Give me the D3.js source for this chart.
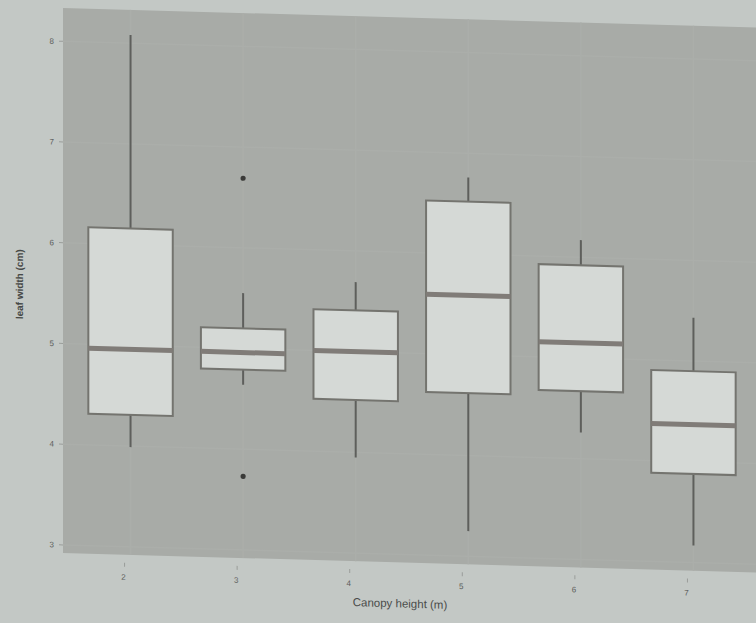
<!DOCTYPE html>
<html>
<head>
<meta charset="utf-8">
<script src="https://cdn.jsdelivr.net/npm/d3@7"></script>
<style>
  html, body { margin: 0; padding: 0; background: #c3c8c5; }
  svg { display: block; }
</style>
</head>
<body>
<svg id="chart" width="756" height="623"></svg>
<script>
// Canopy height classes (m)
const categories = ["2", "3", "4", "5", "6", "7"];
// Five-number summaries of leaf width (cm) per class
const whiskerLow  = [3.99, 4.64, 3.95, 3.25, 4.26, 3.17];
const q1          = [4.31, 4.79, 4.52, 4.62, 4.67, 3.88];
const median      = [4.96, 4.96, 5.00, 5.59, 5.15, 4.37];
const q3          = [6.16, 5.20, 5.41, 6.52, 5.92, 4.90];
const whiskerHigh = [8.08, 5.55, 5.69, 6.76, 6.17, 5.43];
// Individual outlying observations
const outlierCat  = ["3", "3"];
const outlierVal  = [6.69, 3.73];
const yTicks      = [3, 4, 5, 6, 7, 8];

const svg = d3.select("#chart");
const panel = { left: 63, right: 761, top: 8, bottom: 553 };

// Slight tilt of the whole figure
const tilt = 0.028;
const root = svg.append("g")
  .attr("transform", `translate(0,${-panel.left * tilt}) skewY(${Math.atan(tilt) * 180 / Math.PI})`);

// Discrete x positions with ggplot-like expansion (0.6 of a step on each side)
const x = d3.scalePoint()
  .domain(categories)
  .range([panel.left, panel.right])
  .padding(0.6);
const cx = c => x(c);
const boxW = x.step() * 0.75;

const y = d3.scaleLinear().domain([2.92, 8.33]).range([panel.bottom, panel.top]);

// Panel background
root.append("rect")
  .attr("x", panel.left).attr("y", panel.top)
  .attr("width", panel.right - panel.left).attr("height", panel.bottom - panel.top)
  .attr("fill", "#a8aba7");

// Faint grid lines
root.append("g").selectAll("line").data(categories).join("line")
  .attr("x1", d => cx(d)).attr("x2", d => cx(d))
  .attr("y1", panel.top).attr("y2", panel.bottom)
  .attr("stroke", "#abaeaa").attr("stroke-width", 1.5);
root.append("g").selectAll("line").data(yTicks).join("line")
  .attr("x1", panel.left).attr("x2", panel.right)
  .attr("y1", d => y(d)).attr("y2", d => y(d))
  .attr("stroke", "#abaeaa").attr("stroke-width", 1.5);

const rows = categories.map((c, i) => ({
  c, lo: whiskerLow[i], q1: q1[i], med: median[i], q3: q3[i], hi: whiskerHigh[i]
}));

const boxes = root.append("g").selectAll("g").data(rows).join("g");

// Whiskers
boxes.append("line")
  .attr("x1", d => cx(d.c)).attr("x2", d => cx(d.c))
  .attr("y1", d => y(d.hi)).attr("y2", d => y(d.q3))
  .attr("stroke", "#5e5f5c").attr("stroke-width", 2);
boxes.append("line")
  .attr("x1", d => cx(d.c)).attr("x2", d => cx(d.c))
  .attr("y1", d => y(d.q1)).attr("y2", d => y(d.lo))
  .attr("stroke", "#5e5f5c").attr("stroke-width", 2);

// Boxes
boxes.append("rect")
  .attr("x", d => cx(d.c) - boxW / 2)
  .attr("width", boxW)
  .attr("y", d => y(d.q3))
  .attr("height", d => y(d.q1) - y(d.q3))
  .attr("fill", "#d5d9d6")
  .attr("stroke", "#74746f").attr("stroke-width", 2);

// Medians
boxes.append("line")
  .attr("x1", d => cx(d.c) - boxW / 2).attr("x2", d => cx(d.c) + boxW / 2)
  .attr("y1", d => y(d.med)).attr("y2", d => y(d.med))
  .attr("stroke", "#807c78").attr("stroke-width", 5);

// Outliers
root.append("g").selectAll("circle").data(outlierVal).join("circle")
  .attr("cx", (d, i) => cx(outlierCat[i]))
  .attr("cy", d => y(d))
  .attr("r", 2.6)
  .attr("fill", "#3a3a38");

// Axes: ticks and labels
const axisCol = "#5a5c5a";
root.append("g").selectAll("line").data(yTicks).join("line")
  .attr("x1", panel.left - 4).attr("x2", panel.left)
  .attr("y1", d => y(d)).attr("y2", d => y(d))
  .attr("stroke", "#9a9d9a").attr("stroke-width", 1);
root.append("g").selectAll("text").data(yTicks).join("text")
  .attr("x", panel.left - 9).attr("y", d => y(d))
  .attr("dy", "0.35em").attr("text-anchor", "end")
  .attr("font-family", "Liberation Sans, Arial, sans-serif")
  .attr("font-size", 8).attr("fill", axisCol)
  .text(d => d);

root.append("g").selectAll("line").data(categories).join("line")
  .attr("x1", d => cx(d) - 6).attr("x2", d => cx(d) - 6)
  .attr("y1", panel.bottom + 8).attr("y2", panel.bottom + 12)
  .attr("stroke", "#9a9d9a").attr("stroke-width", 1);
root.append("g").selectAll("text").data(categories).join("text")
  .attr("x", d => cx(d) - 7).attr("y", panel.bottom + 25)
  .attr("text-anchor", "middle")
  .attr("font-family", "Liberation Sans, Arial, sans-serif")
  .attr("font-size", 8).attr("fill", axisCol)
  .text(d => d);

// Axis titles
root.append("text")
  .attr("x", 400).attr("y", panel.bottom + 45)
  .attr("text-anchor", "middle")
  .attr("font-family", "Liberation Sans, Arial, sans-serif")
  .attr("font-size", 11.5).attr("fill", "#4a4c4a")
  .text("Canopy height (m)");
root.append("text")
  .attr("transform", `translate(23,${(panel.top + panel.bottom) / 2 + 5}) rotate(-90)`)
  .attr("text-anchor", "middle")
  .attr("font-family", "Liberation Sans, Arial, sans-serif")
  .attr("font-size", 10).attr("font-weight", "bold").attr("fill", "#474947")
  .text("leaf width (cm)");
</script>
</body>
</html>
